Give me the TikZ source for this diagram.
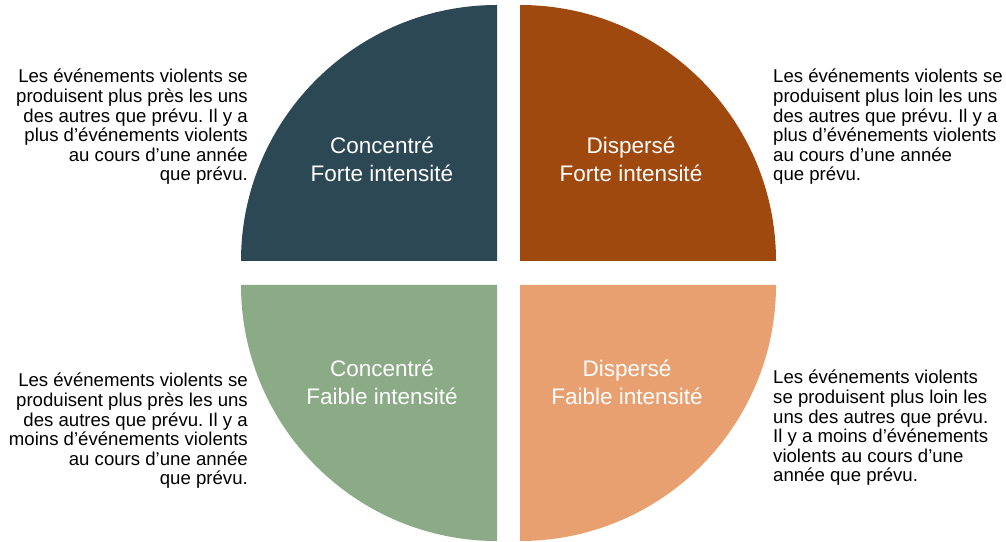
\documentclass[tikz,border=0pt]{standalone}
\usepackage{fontspec}
\setmainfont{Liberation Sans}
\usepackage{xcolor}
\usepackage{tikz}
\usetikzlibrary{positioning}
\frenchspacing

\definecolor{slate}{HTML}{2C4855}
\definecolor{rust}{HTML}{A0490E}
\definecolor{sage}{HTML}{8BAA86}
\definecolor{peach}{HTML}{E8A070}

\tikzset{
  quart/.style={draw=none},
  title/.style={text=white, align=center, inner sep=0pt, font=\fontsize{22.5}{28}\selectfont},
  desc/.style={text=black, inner sep=0pt, font=\fontsize{18.6}{19.6}\selectfont}
}

\begin{document}
\begin{tikzpicture}[x=1pt, y=1pt]
\useasboundingbox (0, 0) rectangle (1006, 541);

% quarters
\fill[slate] (497, 280) -- (241, 280) arc (180:90:256) -- cycle;
\fill[rust] (520, 280) -- (776, 280) arc (0:90:256) -- cycle;
\fill[sage] (497, 256) -- (241, 256) arc (180:270:256) -- cycle;
\fill[peach] (520, 256) -- (776, 256) arc (0:-90:256) -- cycle;

% titles
\node[title] (cfort) at (382, 382) {Concentré\\Forte intensité};
\node[title] (dfort) at (631, 382) {Dispersé\\Forte intensité};
\node[title] (cfaib) at (382, 159) {Concentré\\Faible intensité};
\node[title] (dfaib) at (627, 159) {Dispersé\\Faible intensité};

% descriptions
\node[desc, align=right, anchor=east] (txtcf) at (248, 414)
  {Les événements violents se\\produisent plus près les uns\\des autres que prévu. Il y a\\plus d’événements violents\\au cours d’une année\\que prévu.};
\node[desc, align=left, anchor=west] (txtdf) at (773, 414)
  {Les événements violents se\\produisent plus loin les uns\\des autres que prévu. Il y a\\plus d’événements violents\\au cours d’une année\\que prévu.};
\node[desc, align=right, anchor=east] (txtcl) at (248, 110)
  {Les événements violents se\\produisent plus près les uns\\des autres que prévu. Il y a\\moins d’événements violents\\au cours d’une année\\que prévu.};
\node[desc, align=left, anchor=west] (txtdl) at (773, 113)
  {Les événements violents\\se produisent plus loin les\\uns des autres que prévu.\\Il y a moins d’événements\\violents au cours d’une\\année que prévu.};

\end{tikzpicture}
\end{document}
